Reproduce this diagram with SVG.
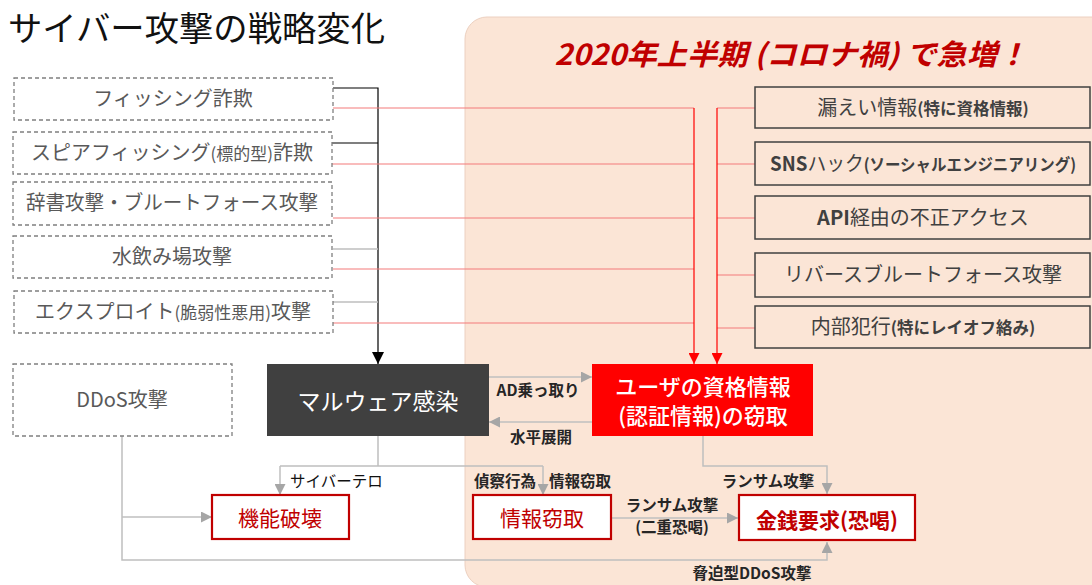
<svg xmlns="http://www.w3.org/2000/svg" width="1092" height="585" viewBox="0 0 1092 585">
<defs>
<style>
text{font-family:"Noto Sans CJK JP","Noto Sans",sans-serif}
.lb rect{fill:#fff;stroke:#7f7f7f;stroke-width:1.3;stroke-dasharray:4 3}
.lb text{font-size:20px;fill:#595959;text-anchor:middle}
.rb rect{fill:none;stroke:#404040;stroke-width:1.5}
.rb text{font-size:20px;fill:#404040;text-anchor:middle}
.sm{font-size:16.5px;font-weight:bold}
.res rect{fill:#fff;stroke:#c00000;stroke-width:2.2}
.res text{font-size:21px;fill:#c00000;text-anchor:middle}
.lab{font-size:15.5px;fill:#262626;font-weight:bold}
.lab.n{font-weight:normal;fill:#111}
.g{fill:none;stroke:#bfbfbf;stroke-width:1.5}
.rh{fill:none;stroke:#f47a7a;stroke-width:1.2}
.rv{fill:none;stroke:#ff0000;stroke-width:1.2}
.wt{font-size:22px;fill:#fff;text-anchor:middle;font-weight:500}
</style>
<marker id="ag" viewBox="0 0 10 10" refX="10" refY="5" markerWidth="11" markerHeight="11" markerUnits="userSpaceOnUse" orient="auto"><path d="M0,0 L10,5 L0,10 z" fill="#a6a6a6"/></marker>
<marker id="ar" viewBox="0 0 10 10" refX="10" refY="5" markerWidth="11" markerHeight="11" markerUnits="userSpaceOnUse" orient="auto"><path d="M0,0 L10,5 L0,10 z" fill="#ff0000"/></marker>
<marker id="ak" viewBox="0 0 10 10" refX="10" refY="5" markerWidth="12" markerHeight="12" markerUnits="userSpaceOnUse" orient="auto"><path d="M0,0 L10,5 L0,10 z" fill="#000"/></marker>
</defs>
<rect width="1092" height="585" fill="#fff"/>
<rect id="panel" x="465" y="17" width="660" height="570" rx="22" fill="#fbe5d6" stroke="#ecd0c0" stroke-width="1"/>
<text x="8" y="41" font-size="34" fill="#111" textLength="377" lengthAdjust="spacingAndGlyphs">サイバー攻撃の戦略変化</text>
<text x="791" y="65" font-size="29" font-weight="bold" font-style="italic" fill="#c00000" text-anchor="middle" textLength="473" lengthAdjust="spacingAndGlyphs">2020年上半期 (コロナ禍) で急増！</text>

<g id="connectors">
<path d="M333,88 H378 V364" fill="none" stroke="#000" stroke-width="1.2" marker-end="url(#ak)"/>
<path d="M332,143 H378" fill="none" stroke="#000" stroke-width="1.2"/>
<path d="M333,249 H378 M333,302 H378" class="g"/>
<path d="M333,108 H694 M332,164 H694 M333,218 H694 M333,269 H694 M333,323 H694" class="rh"/>
<path d="M694,108 V364" class="rv" marker-end="url(#ar)"/>
<path d="M755,108 H717 M755,164 H717 M755,218 H717 M755,275 H717 M755,328 H717" class="rh"/>
<path d="M717,108 V364" class="rv" marker-end="url(#ar)"/>
<path d="M489,377 H592" class="g" marker-end="url(#ag)"/>
<path d="M592,422 H489" class="g" marker-end="url(#ag)"/>
<path d="M378,436 V466 M280,466 H543" class="g"/>
<path d="M280,466 V495" class="g" marker-end="url(#ag)"/>
<path d="M543,466 V495" class="g" marker-end="url(#ag)"/>
<path d="M703,436 V466 H827 V494" class="g" marker-end="url(#ag)"/>
<path d="M611,518 H738" class="g" marker-end="url(#ag)"/>
<path d="M122,436 V560 H827 V542" class="g" marker-end="url(#ag)"/>
<path d="M122,517 H212" class="g" marker-end="url(#ag)"/>
<text class="lab" x="538" y="396" text-anchor="middle">AD乗っ取り</text>
<text class="lab" x="541" y="443" text-anchor="middle">水平展開</text>
<text class="lab n" x="290" y="487">サイバーテロ</text>
<text class="lab" x="536" y="487" text-anchor="end">偵察行為</text>
<text class="lab" x="549" y="487">情報窃取</text>
<text class="lab" x="768" y="487" text-anchor="middle">ランサム攻撃</text>
<text class="lab" x="672" y="511" text-anchor="middle">ランサム攻撃</text>
<text class="lab" x="672" y="533" text-anchor="middle" font-size="13.5">(二重恐喝)</text>
<text class="lab" x="752" y="579" text-anchor="middle">脅迫型DDoS攻撃</text>
</g>

<g id="n-phishing" class="lb"><rect x="14" y="78" width="319" height="42"/><text x="173" y="106">フィッシング詐欺</text></g>
<g id="n-spear" class="lb"><rect x="13" y="132" width="319" height="42"/><text x="172" y="160">スピアフィッシング<tspan font-size="17">(標的型)</tspan>詐欺</text></g>
<g id="n-brute" class="lb"><rect x="13" y="182" width="319" height="43"/><text x="172" y="210" textLength="292" lengthAdjust="spacingAndGlyphs">辞書攻撃・ブルートフォース攻撃</text></g>
<g id="n-watering" class="lb"><rect x="13" y="236" width="319" height="42"/><text x="172" y="264">水飲み場攻撃</text></g>
<g id="n-exploit" class="lb"><rect x="14" y="291" width="319" height="42"/><text x="173" y="319">エクスプロイト<tspan font-size="17">(脆弱性悪用)</tspan>攻撃</text></g>
<g id="n-ddos" class="lb"><rect x="13" y="364" width="219" height="72"/><text x="122" y="407">DDoS攻撃</text></g>

<g id="n-leak" class="rb"><rect x="755" y="87" width="335" height="41"/><text x="923" y="115">漏えい情報<tspan class="sm">(特に資格情報)</tspan></text></g>
<g id="n-sns" class="rb"><rect x="755" y="142" width="335" height="43"/><text x="923" y="171" textLength="306" lengthAdjust="spacingAndGlyphs"><tspan font-weight="bold">SNS</tspan>ハック<tspan class="sm">(ソーシャルエンジニアリング)</tspan></text></g>
<g id="n-api" class="rb"><rect x="755" y="196" width="335" height="43"/><text x="923" y="225"><tspan font-weight="bold">API</tspan>経由の不正アクセス</text></g>
<g id="n-reverse" class="rb"><rect x="755" y="253" width="335" height="44"/><text x="923" y="282">リバースブルートフォース攻撃</text></g>
<g id="n-insider" class="rb"><rect x="755" y="306" width="335" height="42"/><text x="923" y="334">内部犯行<tspan class="sm">(特にレイオフ絡み)</tspan></text></g>

<g id="n-malware"><rect x="267" y="364" width="222" height="72" fill="#404040"/><text x="378" y="410" font-size="23" fill="#fff" text-anchor="middle">マルウェア感染</text></g>
<g id="n-cred"><rect x="592" y="364" width="221" height="72" fill="#ff0000"/><text class="wt" x="703" y="395">ユーザの資格情報</text><text class="wt" x="703" y="424">(認証情報)の窃取</text></g>

<g id="n-destroy" class="res"><rect x="212" y="495" width="137" height="44"/><text x="280" y="526">機能破壊</text></g>
<g id="n-theft" class="res"><rect x="473" y="495" width="138" height="44"/><text x="542" y="526">情報窃取</text></g>
<g id="n-money" class="res"><rect x="739" y="495" width="176" height="45" stroke-width="4"/><text x="827" y="528" font-size="22" font-weight="bold">金銭要求(恐喝)</text></g>
</svg>
